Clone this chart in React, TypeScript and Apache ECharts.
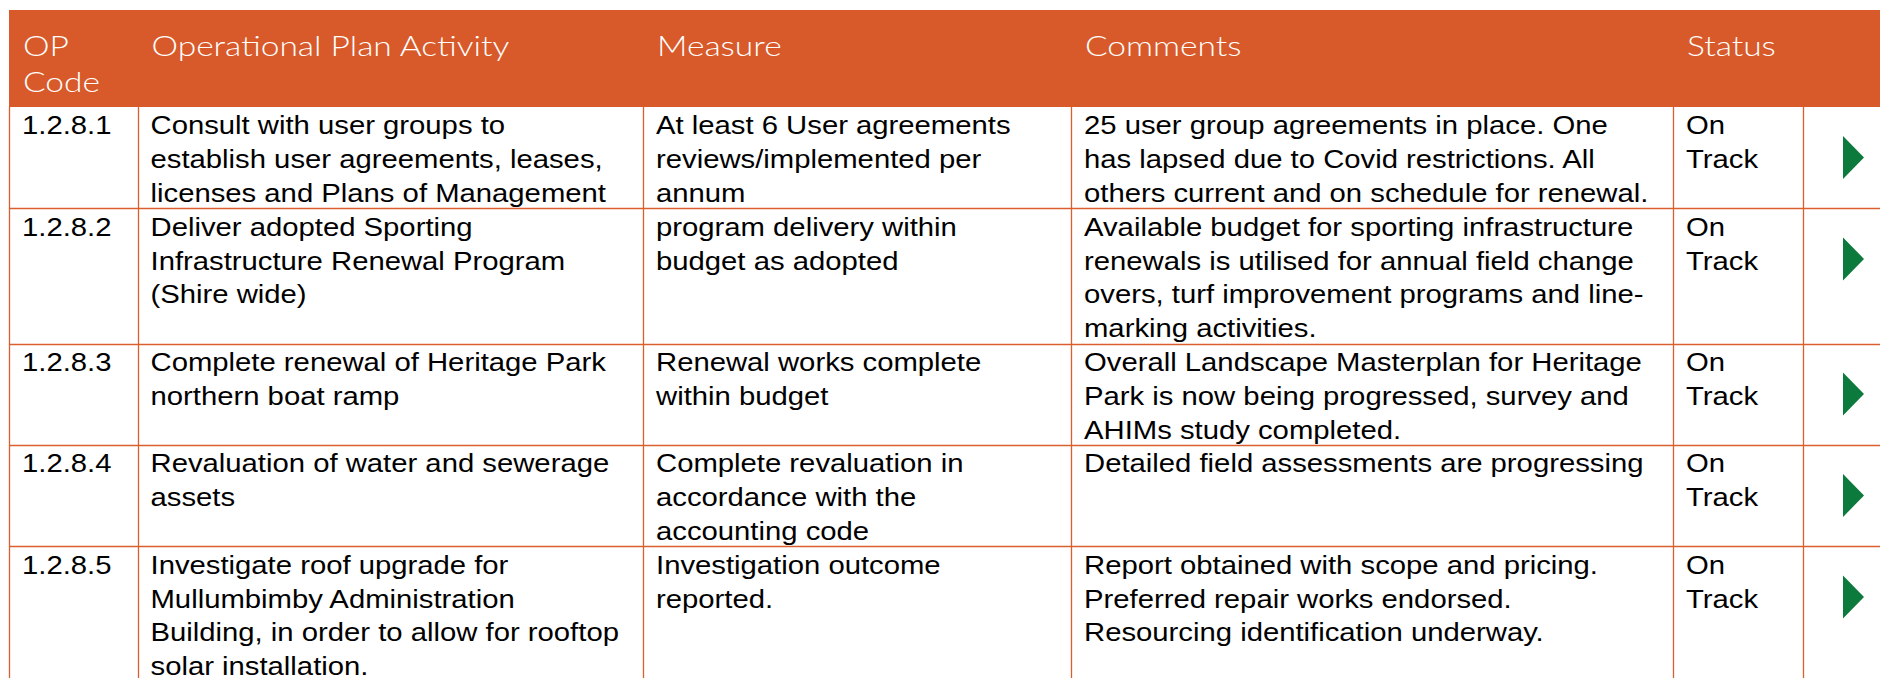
import React, { useEffect, useRef } from "react";
import * as echarts from "echarts";

// ---- Table data ----
const headers = ["OP\nCode", "Operational Plan Activity", "Measure", "Comments", "Status"];
const codes = ["1.2.8.1", "1.2.8.2", "1.2.8.3", "1.2.8.4", "1.2.8.5"];
const activities = [
  "Consult with user groups to\nestablish user agreements, leases,\nlicenses and Plans of Management",
  "Deliver adopted Sporting\nInfrastructure Renewal Program\n(Shire wide)",
  "Complete renewal of Heritage Park\nnorthern boat ramp",
  "Revaluation of water and sewerage\nassets",
  "Investigate roof upgrade for\nMullumbimby Administration\nBuilding, in order to allow for rooftop\nsolar installation.",
];
const measures = [
  "At least 6 User agreements\nreviews/implemented per\nannum",
  "program delivery within\nbudget as adopted",
  "Renewal works complete\nwithin budget",
  "Complete revaluation in\naccordance with the\naccounting code",
  "Investigation outcome\nreported.",
];
const comments = [
  "25 user group agreements in place. One\nhas lapsed due to Covid restrictions. All\nothers current and on schedule for renewal.",
  "Available budget for sporting infrastructure\nrenewals is utilised for annual field change\novers, turf improvement programs and line-\nmarking activities.",
  "Overall Landscape Masterplan for Heritage\nPark is now being progressed, survey and\nAHIMs study completed.",
  "Detailed field assessments are progressing",
  "Report obtained with scope and pricing.\nPreferred repair works endorsed.\nResourcing identification underway.",
];
const statuses = ["On\nTrack", "On\nTrack", "On\nTrack", "On\nTrack", "On\nTrack"];

// ---- Layout / style ----
const W = 1880;
const H = 678;
const COL_X = [9, 137.5, 643, 1071, 1673, 1803];
const HEADER_TOP = 10;
const HEADER_BOTTOM = 107;
const LINE_H = 33.8;
const ORANGE = "#D85A2A";
const LINE_COLOR = "#D9602E";
const GREEN = "#0B7A3C";
const BODY_FONT_FAMILY = "'Liberation Sans', Arial, Helvetica, sans-serif";
const HEAD_FONT_FAMILY = "Lato, 'Open Sans', sans-serif";
const BODY_SIZE = 26;
const HEAD_SIZE = 28;

function measure(font: string, text: string): number {
  const c = document.createElement("canvas");
  const ctx = c.getContext("2d");
  if (!ctx) return 0;
  ctx.font = font;
  return ctx.measureText(text).width;
}

export default function App() {
  const ref = useRef<HTMLDivElement>(null);

  useEffect(() => {
    document.body.style.margin = "0";
    if (!ref.current) return;
    const chart = echarts.init(ref.current, undefined, { renderer: "svg" });

    const bodyFont = `${BODY_SIZE}px ${BODY_FONT_FAMILY}`;
    const headFont = `300 ${HEAD_SIZE}px ${HEAD_FONT_FAMILY}`;
    const bw = measure(bodyFont, "Resourcing identification underway.");
    const bodyScale = bw > 0 ? 460 / bw : 1.12;
    const hw = measure(headFont, "Operational Plan Activity");
    const headScale = hw > 0 ? 359 / hw : 1;

    const elements: any[] = [];

    // header band
    elements.push({
      type: "rect",
      shape: { x: COL_X[0], y: HEADER_TOP, width: W - COL_X[0], height: HEADER_BOTTOM - HEADER_TOP },
      style: { fill: ORANGE },
      silent: true,
    });
    headers.forEach((h, i) => {
      elements.push({
        type: "text",
        x: COL_X[i] + 14,
        y: 27.5,
        scaleX: headScale,
        style: {
          text: h,
          font: headFont,
          fill: "#FFFFFF",
          lineHeight: 36,
          verticalAlign: "top",
          align: "left",
        },
      });
    });

    // rows
    let top = HEADER_BOTTOM;
    const rowTops: number[] = [];
    codes.forEach((code, r) => {
      const cells = [code, activities[r], measures[r], comments[r], statuses[r]];
      const nLines = Math.max(...cells.map((c) => c.split("\n").length));
      rowTops.push(top);
      cells.forEach((txt, ci) => {
        elements.push({
          type: "text",
          x: COL_X[ci] + 13,
          y: top + 1.5,
          scaleX: bodyScale,
          style: {
            text: txt,
            font: bodyFont,
            fill: "#000000",
            lineHeight: LINE_H,
            verticalAlign: "top",
            align: "left",
          },
        });
      });
      // status triangle
      const c = top + 50.5;
      elements.push({
        type: "polygon",
        shape: { points: [[1843, c - 21.5], [1864, c], [1843, c + 21.5]] },
        style: { fill: GREEN },
      });
      top += nLines * LINE_H;
    });

    // horizontal grid lines (row separators)
    rowTops.slice(1).forEach((y) => {
      const yy = Math.round(y) + 0.5;
      elements.push({
        type: "line",
        shape: { x1: COL_X[0], y1: yy, x2: W, y2: yy },
        style: { stroke: LINE_COLOR, lineWidth: 1.3 },
      });
    });
    // vertical grid lines
    COL_X.forEach((x) => {
      const xx = Math.round(x) + 0.5;
      elements.push({
        type: "line",
        shape: { x1: xx, y1: HEADER_BOTTOM, x2: xx, y2: H },
        style: { stroke: LINE_COLOR, lineWidth: 1.3 },
      });
    });

    chart.setOption({
      animation: false,
      graphic: { elements },
    });

    return () => {
      chart.dispose();
    };
  }, []);

  return <div ref={ref} style={{ width: W, height: H }} />;
}
